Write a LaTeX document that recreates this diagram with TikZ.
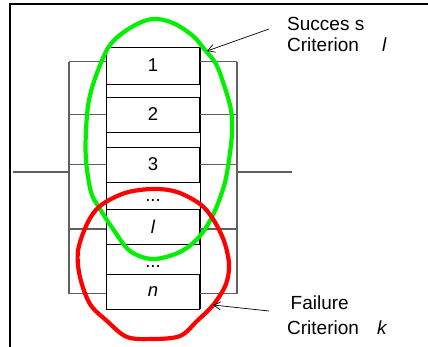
\documentclass[tikz,border=0pt]{standalone}
\usepackage{fontspec}
\setmainfont{Liberation Sans}
\usetikzlibrary{arrows.meta}
\definecolor{wiregray}{HTML}{606060}
\definecolor{loopgreen}{HTML}{00F000}
\definecolor{loopred}{HTML}{FF0000}
\begin{document}
\begin{tikzpicture}[x=1pt,y=-1pt,
  unitbox/.style={draw=black, line width=0.9pt, minimum width=93pt,
    minimum height=35pt, inner sep=0pt, font=\fontsize{18.5}{18.5}\selectfont},
  gapdots/.style={anchor=base, inner sep=0pt, font=\fontsize{18.5}{18.5}\selectfont},
  wire/.style={draw=wiregray, line width=1.3pt},
  colline/.style={draw=black, line width=0.9pt},
  lbl/.style={anchor=base west, inner sep=0pt, font=\fontsize{19}{19}\selectfont},
  pointer/.style={draw=black, line width=0.7pt, -{Straight Barb[length=7pt,width=8pt]}},
  loop/.style={line width=4.2pt, line join=round},
]
\useasboundingbox (0,0) rectangle (428,347);

% column of units
\node[unitbox, minimum height=37pt] (b1) at (153,65.5) {1};
\node[unitbox] (b2) at (153,114.5) {2};
\node[unitbox] (b3) at (153,164.5) {3};
\node[unitbox] (bl) at (153,226.5) {\itshape l};
\node[unitbox] (bn) at (153,291.5) {\itshape n};
\node[gapdots] (d1) at (153,202) {...};
\node[gapdots] (d2) at (153,268) {...};
\draw[colline] (b1.north west) -- (bn.south west);
\draw[colline] (b1.north east) -- (bn.south east);

% parallel wiring
\coordinate (lt) at (69,61.7);
\coordinate (lb) at (69,293.5);
\coordinate (rt) at (237,61.7);
\coordinate (rb) at (237,293.5);
\coordinate (in) at (13,172);
\coordinate (out) at (292,172);
\draw[wire] (lt) -- (lb);
\draw[wire] (rt) -- (rb);
\draw[wire] (lt) -- (lt -| b1.west);
\draw[wire] (rt) -- (rt -| b1.east);
\draw[wire] (b2.west) -- (b2.west -| lt);
\draw[wire] (b2.east) -- (b2.east -| rt);
\draw[wire] (b3.west) -- (b3.west -| lt);
\draw[wire] (b3.east) -- (b3.east -| rt);
\draw[wire] ([yshift=-2.5pt]bl.west) -- ([yshift=-2.5pt]bl.west -| lt);
\draw[wire] ([yshift=-2.5pt]bl.east) -- ([yshift=-2.5pt]bl.east -| rt);
\draw[wire] (lb) -- (lb -| bn.west);
\draw[wire] (rb) -- (rb -| bn.east);
\draw[wire] (in) -- (in -| lt);
\draw[wire] (out) -- (out -| rt);

% success region
\draw[loop, draw=loopgreen] plot[smooth cycle, tension=0.55] coordinates {
  (152,19) (173,23) (193,36) (205,50) (216,64) (224,85) (231,110) (232,133)
  (229,160) (224,186) (213,215) (199,237) (180,252) (153,259) (130,251)
  (113,229) (100,209) (91,192) (86,160) (86,130) (89,100) (97,73)
  (110,45) (130,28)};

% failure region
\draw[loop, draw=loopred] plot[smooth cycle, tension=0.55] coordinates {
  (153,189) (177,192) (200,204) (213,219) (224,241) (229,264) (226,284)
  (214,304) (197,321) (180,336) (153,339) (127,337) (107,321) (90,304)
  (80,277) (78,251) (87,224) (100,206) (125,193)};

% annotations
\node[lbl] (s1) at (287,31) {Succes s};
\node[lbl] (s2) at (287,51.5) {Criterion};
\node[lbl] (s3) at (382,51.5) {\itshape l};
\node[lbl] (f1) at (290.5,309) {Failure};
\node[lbl] (f2) at (287,334) {Criterion};
\node[lbl] (f3) at (377,334) {\itshape k};
\coordinate (sa) at (269,29);
\coordinate (st) at (207,51);
\coordinate (fa) at (269,311);
\coordinate (ft) at (213,305);
\draw[pointer] (sa) -- (st);
\draw[pointer] (fa) -- (ft);

% frame
\draw[line width=2pt, line join=miter] (10,348) -- (10,4) -- (429,4);
\end{tikzpicture}
\end{document}
